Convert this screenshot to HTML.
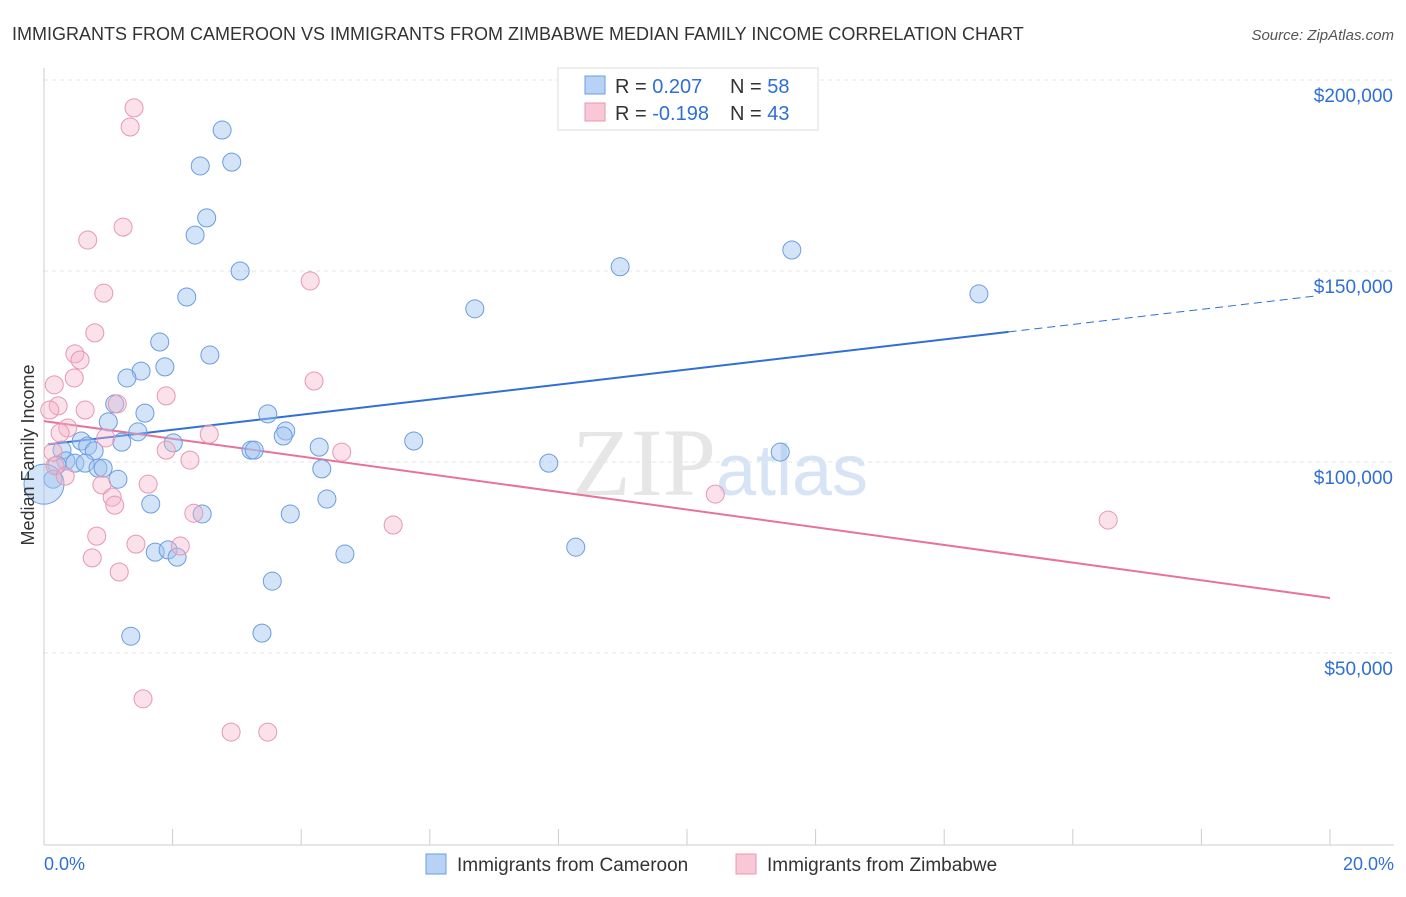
<!DOCTYPE html>
<html><head><meta charset="utf-8"><style>
body{margin:0;background:#fff;font-family:"Liberation Sans",sans-serif;}
</style></head><body>
<svg id="chart" width="1406" height="892" xmlns="http://www.w3.org/2000/svg" font-family="Liberation Sans, sans-serif">
<text x="12" y="40" font-size="18" fill="#333">IMMIGRANTS FROM CAMEROON VS IMMIGRANTS FROM ZIMBABWE MEDIAN FAMILY INCOME CORRELATION CHART</text>
<text x="1394" y="40" font-size="15" fill="#555" font-style="italic" text-anchor="end">Source: ZipAtlas.com</text>
<text x="720" y="495" font-size="96" fill="#e6e6e6" text-anchor="middle" font-family="Liberation Serif, serif">ZIP<tspan fill="#d6e4f5" font-family="Liberation Sans, sans-serif" font-size="72">atlas</tspan></text>
<g id="grid"></g>
<g id="axes"></g>
<g id="lines"></g>
<g id="points"></g>
<text transform="translate(34,455) rotate(-90)" font-size="18" fill="#333" text-anchor="middle">Median Family Income</text>
<g>
<rect x="558" y="68" width="260" height="62" fill="#fff" stroke="#ddd"/>
<rect x="585" y="76" width="20" height="18" fill="#b8d2f5" stroke="#6a9de0"/>
<text x="615" y="93" font-size="20" fill="#333">R = <tspan fill="#2f6fd6">0.207</tspan><tspan x="730">N = </tspan><tspan fill="#2f6fd6">58</tspan></text>
<rect x="585" y="103" width="20" height="18" fill="#f9c8d6" stroke="#e897b2"/>
<text x="615" y="120" font-size="20" fill="#333">R = <tspan fill="#2f6fd6">-0.198</tspan><tspan x="730">N = </tspan><tspan fill="#2f6fd6">43</tspan></text>
</g>
<g>
<rect x="426" y="854" width="20" height="20" fill="#b8d2f5" stroke="#6a9de0"/>
<text x="457" y="871" font-size="19" fill="#333">Immigrants from Cameroon</text>
<rect x="736" y="854" width="20" height="20" fill="#f9c8d6" stroke="#e897b2"/>
<text x="767" y="871" font-size="19" fill="#333">Immigrants from Zimbabwe</text>
</g>
<text x="44" y="870" font-size="18" fill="#2f6fd6">0.0%</text>
<text x="1394" y="870" font-size="18" fill="#2f6fd6" text-anchor="end">20.0%</text>
</svg>
<script>
const blueX=[2.77,2.43,2.92,2.53,2.35,3.05,2.22,6.70,8.96,11.63,14.54,1.80,2.58,1.88,1.51,1.29,1.10,1.57,3.48,1.00,1.46,1.21,3.76,3.72,0.58,2.01,0.28,0.68,0.78,4.28,5.75,3.22,3.27,0.34,0.48,0.64,0.20,0.84,0.92,4.32,7.85,11.45,1.15,0.14,0.0,1.66,4.40,2.46,3.83,1.73,1.93,2.07,4.68,8.27,3.55,1.35,3.39];
const blueY=[186.9,177.5,178.5,163.9,159.4,150.0,143.2,140.1,151.1,155.5,144.0,131.4,128.0,124.9,123.8,122.0,115.2,112.8,112.6,110.5,107.9,105.2,108.1,106.8,105.5,105.0,103.1,104.2,102.9,103.9,105.5,103.1,103.1,100.3,99.7,99.7,99.2,98.4,98.4,98.2,99.7,102.6,95.5,95.5,94.2,89.0,90.3,86.4,86.4,76.4,77.0,75.1,75.9,77.7,68.8,54.4,55.2];
const pinkX=[1.40,1.34,1.23,0.68,0.93,4.14,0.79,0.48,0.56,0.47,0.16,4.20,1.90,0.22,0.09,0.64,1.14,0.37,0.25,0.96,2.57,1.90,4.63,2.27,0.17,0.33,1.62,0.90,1.06,1.10,2.33,5.43,10.44,16.55,0.82,1.43,2.12,0.75,1.17,1.54,2.91,3.48,0.14];
const pinkY=[192.7,187.7,161.5,158.1,144.2,147.4,133.8,128.3,126.7,122.0,120.2,121.2,117.3,114.7,113.6,113.6,115.2,108.9,107.6,106.3,107.3,103.1,102.6,100.5,99.0,96.3,94.2,94.0,90.8,88.7,86.6,83.5,91.6,84.8,80.6,78.5,78.0,74.9,71.2,38.0,29.3,29.3,102.6];
const yTicks=[50,100,150,200];
const yTickLabels=["$50,000","$100,000","$150,000","$200,000"];
const xTicks=[0,2,4,6,8,10,12,14,16,18,20];
const blueTrend=[104.5,143.9]; // values at 0% and 20%
const blueSolidEnd=15.0;
const pinkTrend=[110.7,64.4];

const NS="http://www.w3.org/2000/svg";
const X=v=>44+v*64.3;
const Y=v=>462-(v-100)*191/50;
function mk(tag,attrs,parent){const e=document.createElementNS(NS,tag);for(const k in attrs)e.setAttribute(k,attrs[k]);document.getElementById(parent).appendChild(e);return e;}

yTicks.forEach((t,i)=>{
  const g=mk('line',{x1:44,x2:1394,y1:Y(t),y2:Y(t),stroke:'#e4e4e4','stroke-dasharray':'4,4'},'grid');
  
  
  const l=mk('text',{x:1393,y:Y(t)+22,'font-size':19,fill:'#2f6fd6','text-anchor':'end'},'axes');
  l.textContent=yTickLabels[i];
  
  
});
const ax=mk('line',{x1:44,x2:44,y1:68,y2:845,stroke:'#ccc'},'axes');


const bx=mk('line',{x1:44,x2:1394,y1:845,y2:845,stroke:'#ccc'},'axes');


xTicks.forEach(t=>{
  const k=mk('line',{x1:X(t),x2:X(t),y1:829,y2:845,stroke:'#ccc'},'axes');
  
  
});

const bl=mk('line',{x1:X(0.06),y1:Y(blueTrend[0]+(blueTrend[1]-blueTrend[0])*0.06/20),x2:X(blueSolidEnd),y2:Y(blueTrend[0]+(blueTrend[1]-blueTrend[0])*blueSolidEnd/20),stroke:'#2f6fd6','stroke-width':2},'lines');


const bd=mk('line',{x1:X(blueSolidEnd),y1:Y(blueTrend[0]+(blueTrend[1]-blueTrend[0])*blueSolidEnd/20),x2:X(19.8),y2:Y(blueTrend[0]+(blueTrend[1]-blueTrend[0])*19.8/20),stroke:'#2f6fd6','stroke-width':1,'stroke-dasharray':'8,5'},'lines');


const pl=mk('line',{x1:X(0),y1:Y(pinkTrend[0]),x2:X(20),y2:Y(pinkTrend[1]),stroke:'#e8729a','stroke-width':2},'lines');



blueX.forEach((x,i)=>{
  const c=mk('circle',{cx:X(x),cy:Y(blueY[i]),r:(x===0?20:9),fill:'rgba(160,196,240,0.45)',stroke:'#6a9de0','stroke-width':1},'points');
  
  
});
pinkX.forEach((x,i)=>{
  const c=mk('circle',{cx:X(x),cy:Y(pinkY[i]),r:9,fill:'rgba(245,180,200,0.4)',stroke:'#e897b2','stroke-width':1},'points');
  
  
});
</script>
</body></html>
